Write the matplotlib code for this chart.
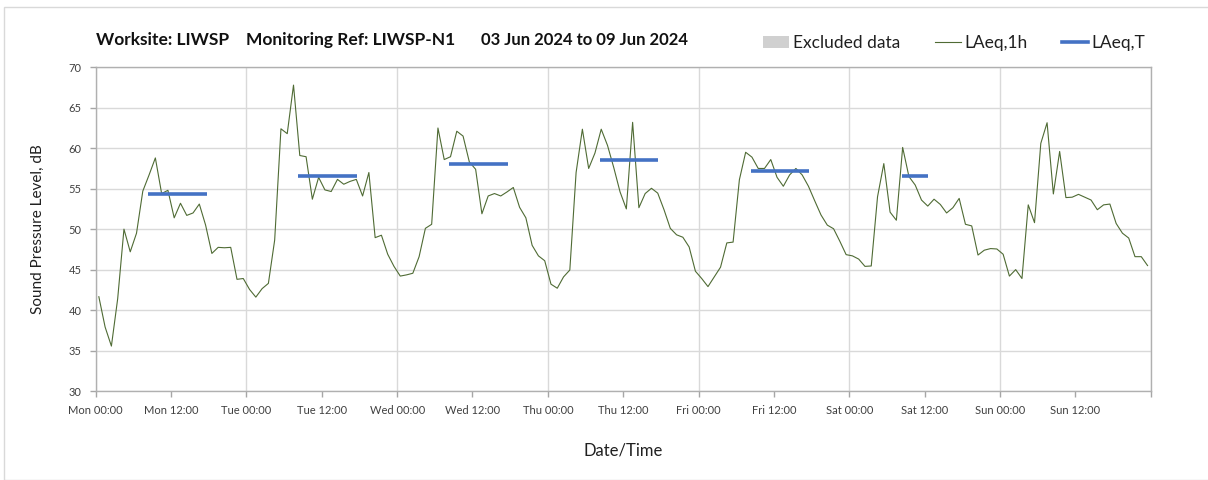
import matplotlib
matplotlib.use('Agg')
import matplotlib.pyplot as plt
import matplotlib.dates as mdates
from matplotlib.patches import Patch, Rectangle
from matplotlib.lines import Line2D
import pandas as pd

plt.rcParams['font.family'] = ['Lato', 'DejaVu Sans']

# hourly LAeq,1h values, Mon 03 Jun 2024 00:00 onwards
laeq_1h = [
    41.65, 37.9, 35.55, 41.4, 50.0, 47.2, 49.5, 54.7, 56.7, 58.8, 54.4, 54.8,
    51.4, 53.2, 51.7, 52.0, 53.1, 50.5, 47.0, 47.75, 47.7, 47.75, 43.8, 43.9,
    42.55, 41.6, 42.65, 43.3, 48.65, 62.4, 61.8, 67.8, 59.1, 58.95, 53.7, 56.4,
    54.85, 54.65, 56.15, 55.55, 55.9, 56.15, 54.1, 57.0, 48.95, 49.25, 46.9, 45.4,
    44.2, 44.35, 44.55, 46.6, 50.1, 50.6, 62.5, 58.6, 58.95, 62.1, 61.5, 58.3,
    57.4, 51.9, 54.1, 54.4, 54.1, 54.6, 55.15, 52.7, 51.4, 48.0, 46.7, 46.1,
    43.2, 42.7, 44.1, 44.95, 57.0, 62.35, 57.5, 59.4, 62.35, 60.35, 57.6, 54.6,
    52.5, 63.2, 52.65, 54.4, 55.05, 54.45, 52.4, 50.1, 49.3, 49.0, 47.8, 44.8,
    43.9, 42.9, 44.1, 45.3, 48.3, 48.4, 56.1, 59.5, 58.9, 57.5, 57.5, 58.6,
    56.4, 55.3, 56.7, 57.5, 56.7, 55.3, 53.5, 51.75, 50.5, 50.05, 48.5, 46.85,
    46.7, 46.3, 45.4, 45.45, 54.0, 58.1, 52.1, 51.1, 60.1, 56.5, 55.45, 53.6,
    52.85, 53.7, 53.05, 52.0, 52.65, 53.8, 50.6, 50.4, 46.8, 47.4, 47.6, 47.55,
    46.9, 44.2, 45.0, 43.9, 53.0, 50.8, 60.6, 63.15, 54.35, 59.6, 53.9, 53.95,
    54.3, 53.95, 53.6, 52.4, 53.0, 53.1, 50.7, 49.5, 48.9, 46.6, 46.6, 45.5,
]

# LAeq,T for each day (Mon..Sat), period start/end in hours
laeq_t_days = ['2024-06-03', '2024-06-04', '2024-06-05', '2024-06-06', '2024-06-07', '2024-06-08']
laeq_t = [54.4, 56.55, 58.0, 58.55, 57.15, 56.55]
t_start = [8.25, 8.25, 8.3, 8.3, 8.3, 8.35]
t_end = [17.65, 17.65, 17.65, 17.6, 17.6, 12.5]

times = pd.date_range('2024-06-03 00:30', periods=len(laeq_1h), freq='h')

fig = plt.figure(figsize=(12.08, 4.8), dpi=100)
fig.patches.append(Rectangle((4 / 1208, 0), 1.1, (480 - 7) / 480, transform=fig.transFigure,
                             fill=False, edgecolor='#d9d9d9', linewidth=1))
ax = fig.add_axes([95.7 / 1208, 1 - 391 / 480, (1150.7 - 95.7) / 1208, (391 - 67.3) / 480])

green = '#4f6b34'
blue = '#4472c4'
ax.plot(times, laeq_1h, color=green, linewidth=0.8, zorder=3)
for d, v, s, e in zip(laeq_t_days, laeq_t, t_start, t_end):
    day = pd.Timestamp(d)
    ax.hlines(v, day + pd.Timedelta(hours=s), day + pd.Timedelta(hours=e),
              color=blue, linewidth=2.6, capstyle='butt', zorder=4)

ax.set_ylim(30, 70)
ax.set_yticks(range(30, 71, 5))
ax.set_xlim(pd.Timestamp('2024-06-03'), pd.Timestamp('2024-06-10'))
ax.xaxis.set_major_locator(mdates.HourLocator(byhour=[0]))
ax.xaxis.set_minor_locator(mdates.HourLocator(byhour=[12]))
ax.xaxis.set_major_formatter(mdates.DateFormatter('%a %H:%M'))
ax.xaxis.set_minor_formatter(mdates.DateFormatter('%a %H:%M'))

ax.grid(True, which='major', color='#d9d9d9', linewidth=1)
ax.tick_params(axis='both', which='both', colors='#a6a6a6', labelcolor='#404040',
               labelsize=8, length=4, width=1, direction='out')
ax.tick_params(axis='x', which='both', pad=6)
ax.tick_params(axis='y', pad=6)
for s in ax.spines.values():
    s.set_color('#b0b0b0')
    s.set_linewidth(1)

ax.set_ylabel('Sound Pressure Level, dB', fontsize=11, color='#202020', labelpad=17)
ax.set_xlabel('Date/Time', fontsize=12, color='#202020', labelpad=19)

# title pieces
title_y = 1 - 40 / 480
fig.text(96 / 1208, title_y, 'Worksite: LIWSP', fontsize=12.5, fontweight='bold',
         va='center', ha='left', color='#111111')
fig.text(246 / 1208, title_y, 'Monitoring Ref: LIWSP-N1', fontsize=12.5, fontweight='bold',
         va='center', ha='left', color='#111111')
fig.text(481 / 1208, title_y, '03 Jun 2024 to 09 Jun 2024', fontsize=12, fontweight='bold',
         va='center', ha='left', color='#111111')

handles = [Patch(facecolor='#d0d0d0', edgecolor='none'),
           Line2D([], [], color=green, linewidth=0.8),
           Line2D([], [], color=blue, linewidth=2.6)]
fig.legend(handles, ['Excluded data', 'LAeq,1h', 'LAeq,T'], ncol=3, frameon=False,
           loc='center right', bbox_to_anchor=(1161 / 1208, 1 - 43 / 480),
           fontsize=12.5, handlelength=1.5, handletextpad=0.2, columnspacing=2.0,
           labelcolor='#202020')

fig.canvas.draw()
# hide label on final boundary tick
for lbl in ax.get_xticklabels():
    if lbl.get_text() == 'Mon 00:00' and lbl.get_position()[0] > mdates.date2num(pd.Timestamp('2024-06-09')):
        lbl.set_visible(False)

fig.savefig('out.png', dpi=100)
